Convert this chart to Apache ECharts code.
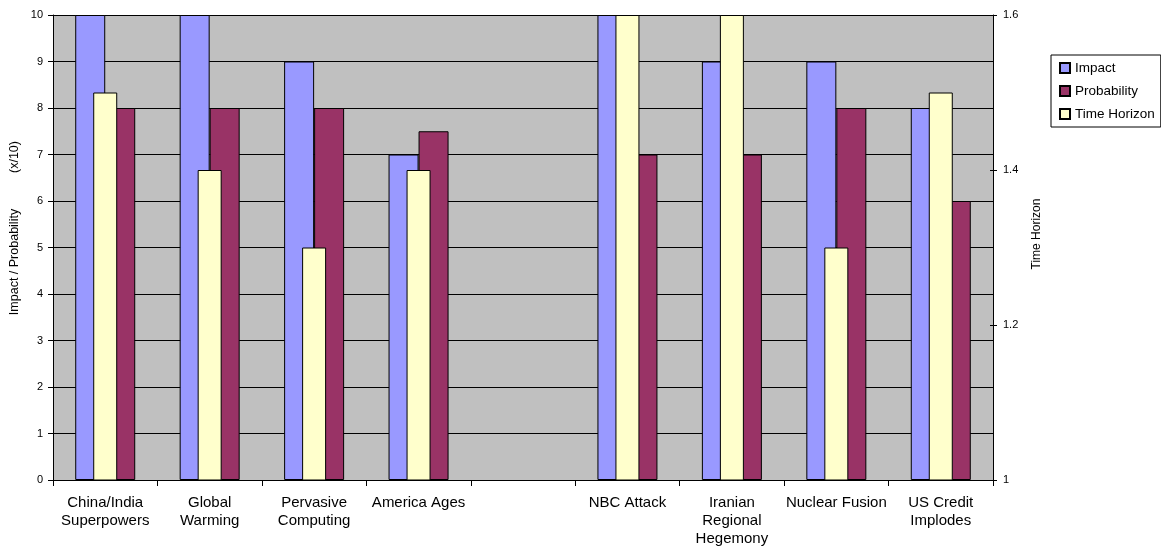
<!DOCTYPE html>
<html>
<head>
<meta charset="utf-8">
<script src="https://cdn.jsdelivr.net/npm/echarts@6/dist/echarts.min.js"></script>
<style>
html,body{margin:0;padding:0;background:#fff;}
#chart{width:1161px;height:548px;}
</style>
</head>
<body>
<div id="chart"></div>
<script>
const categories = ['China/India\nSuperpowers','Global\nWarming','Pervasive\nComputing','America Ages','','NBC Attack','Iranian\nRegional\nHegemony','Nuclear Fusion','US Credit\nImplodes'];
const impact = [10, 10, 9, 7, null, 10, 9, 9, 8];
const probability = [8, 8, 8, 7.5, null, 7, 7, 8, 6];
const timeHorizon = [1.5, 1.4, 1.3, 1.4, null, 1.6, 1.6, 1.3, 1.5];
const seriesNames = ['Impact', 'Probability', 'Time Horizon'];
const leftTitle = 'Impact / Probability';
const leftUnit = '(x/10)';
const rightTitle = 'Time Horizon';

const FONT = 'Arial, "Liberation Sans", sans-serif';
const chart = echarts.init(document.getElementById('chart'), null, {renderer: 'canvas'});
const barBorder = {borderColor: '#000', borderWidth: 1};

chart.setOption({
  animation: false,
  backgroundColor: '#ffffff',
  textStyle: {fontFamily: FONT, color: '#000'},
  grid: {left: 53, right: 168, top: 15, bottom: 68, show: true, backgroundColor: '#C0C0C0', borderWidth: 0},
  legend: {
    data: seriesNames,
    orient: 'vertical',
    left: 1051, top: 55,
    borderColor: '#000', borderWidth: 1,
    padding: [5, 6, 5, 8],
    itemWidth: 10, itemHeight: 10, itemGap: 7,
    icon: 'rect',
    textStyle: {fontFamily: FONT, fontSize: 13.5, lineHeight: 16, color: '#000'}
  },
  xAxis: [
    {
      type: 'category', data: categories, position: 'bottom',
      axisLine: {lineStyle: {color: '#000', width: 1}},
      axisTick: {show: true, length: 6, lineStyle: {color: '#000'}},
      axisLabel: {interval: 0, fontFamily: FONT, fontSize: 15, lineHeight: 18, margin: 14, color: '#000'},
      splitLine: {show: false}
    },
    {type: 'category', data: categories, show: false}
  ],
  yAxis: [
    {
      type: 'value', min: 0, max: 10, interval: 1, position: 'left',
      axisLine: {show: true, lineStyle: {color: '#000'}},
      axisTick: {show: true, length: 5, lineStyle: {color: '#000'}},
      axisLabel: {fontFamily: FONT, fontSize: 11, margin: 10, color: '#000'},
      splitLine: {show: true, lineStyle: {color: '#000', width: 1}}
    },
    {
      type: 'value', min: 1, max: 1.6, interval: 0.2, position: 'right',
      axisLine: {show: true, lineStyle: {color: '#000'}},
      axisTick: {show: true, length: 4, lineStyle: {color: '#000'}},
      axisLabel: {fontFamily: FONT, fontSize: 11, margin: 10, color: '#000',
        formatter: v => String(Math.round(v * 10) / 10)},
      splitLine: {show: false}
    },
    {
      type: 'value', min: 1, max: 1.6, interval: 0.2, position: 'right',
      axisLine: {show: false},
      axisTick: {show: true, inside: true, length: 3, lineStyle: {color: '#000'}},
      axisLabel: {show: false},
      splitLine: {show: false}
    }
  ],
  graphic: [
    {type: 'text', x: 15, y: 262, rotation: Math.PI / 2,
      style: {text: leftTitle, fontFamily: FONT, fontSize: 12.5, fill: '#000', align: 'center', verticalAlign: 'middle'}},
    {type: 'text', x: 15, y: 157, rotation: Math.PI / 2,
      style: {text: leftUnit, fontFamily: FONT, fontSize: 12.5, fill: '#000', align: 'center', verticalAlign: 'middle'}},
    {type: 'text', x: 1037, y: 234, rotation: Math.PI / 2,
      style: {text: rightTitle, fontFamily: FONT, fontSize: 12, fill: '#000', align: 'center', verticalAlign: 'middle'}}
  ],
  series: [
    {name: seriesNames[0], type: 'bar', xAxisIndex: 0, yAxisIndex: 0, data: impact,
      barWidth: 30, barGap: '0%', itemStyle: Object.assign({color: '#9999FF'}, barBorder)},
    {name: seriesNames[1], type: 'bar', xAxisIndex: 0, yAxisIndex: 0, data: probability,
      barWidth: 30, barGap: '0%', itemStyle: Object.assign({color: '#993366'}, barBorder)},
    {name: seriesNames[2], type: 'bar', xAxisIndex: 1, yAxisIndex: 1, data: timeHorizon,
      barWidth: 24, z: 3, itemStyle: Object.assign({color: '#FFFFCC'}, barBorder)}
  ]
});
</script>
</body>
</html>
